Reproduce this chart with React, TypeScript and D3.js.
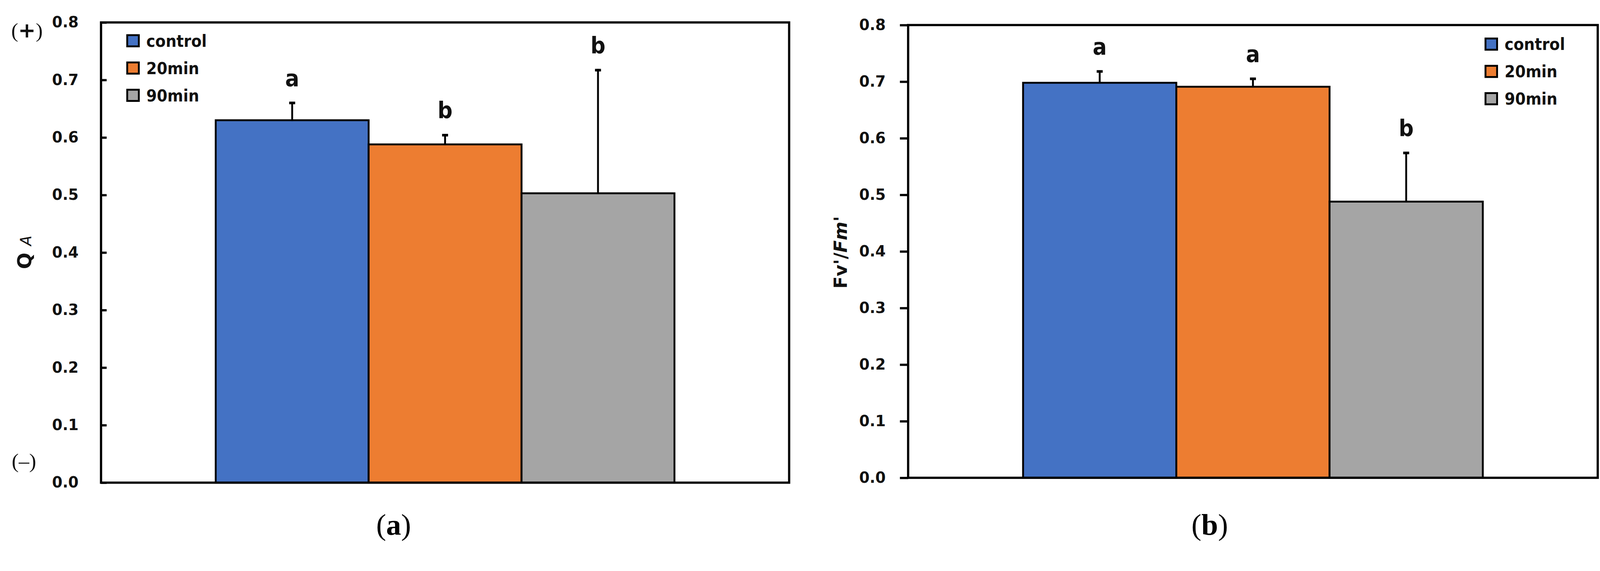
import React, { useEffect, useRef } from 'react';
import * as d3 from 'd3';

// treatments and colours
const groups = ["control", "20min", "90min"];
const barColors = ["#4472C4", "#ED7D31", "#A5A5A5"];

// panel (a): QA
const qaMeans = [0.630, 0.588, 0.503];
const qaErrors = [0.032, 0.018, 0.216];
const qaLetters = ["a", "b", "b"];

// panel (b): Fv'/Fm'
const fvMeans = [0.698, 0.691, 0.488];
const fvErrors = [0.022, 0.016, 0.088];
const fvLetters = ["a", "a", "b"];

const yTicks = [0, 0.1, 0.2, 0.3, 0.4, 0.5, 0.6, 0.7, 0.8];

const W = 4276;
const H = 1463;

const TICK_FONT = "'DejaVu Sans', sans-serif";
const COND_FONT = "'DejaVu Sans Condensed', 'DejaVu Sans', sans-serif";
const SERIF = "'Liberation Serif', 'DejaVu Serif', serif";

interface PanelLayout {
  left: number;
  right: number;
  top: number;
  bottom: number;
  tickSize: number;
  tickPadding: number;
  legendX: number;
  legendY: number;
  caption: string;
  captionX: number;
}

const layoutA: PanelLayout = {
  left: 270, right: 2109, top: 60, bottom: 1291,
  tickSize: -15, tickPadding: 60,
  legendX: 340, legendY: 109,
  caption: "a", captionX: 1052,
};

const layoutB: PanelLayout = {
  left: 2427, right: 4270, top: 67, bottom: 1278,
  tickSize: 22, tickPadding: 38,
  legendX: 3970, legendY: 118,
  caption: "b", captionX: 3233,
};

function drawPanel(
  svg: d3.Selection<SVGSVGElement, unknown, null, undefined>,
  L: PanelLayout,
  means: number[],
  errors: number[],
  letters: string[]
) {
  const g = svg.append("g");

  const y = d3.scaleLinear().domain([0, 0.8]).range([L.bottom, L.top]);
  const outer = d3.scaleBand<string>()
    .domain(["all"])
    .range([L.left, L.right])
    .paddingOuter(0.25);
  const start = outer("all") as number;
  const x = d3.scaleBand<string>()
    .domain(groups)
    .range([start, start + outer.bandwidth()]);

  // bars
  g.selectAll("rect.bar")
    .data(groups)
    .join("rect")
    .attr("class", "bar")
    .attr("x", d => x(d) as number)
    .attr("y", (d, i) => y(means[i]))
    .attr("width", x.bandwidth())
    .attr("height", (d, i) => L.bottom - y(means[i]))
    .attr("fill", (d, i) => barColors[i])
    .attr("stroke", "#000")
    .attr("stroke-width", 5);

  // error bars (upper only) + letters
  groups.forEach((d, i) => {
    const cx = (x(d) as number) + x.bandwidth() / 2;
    const yTop = y(means[i] + errors[i]);
    g.append("line")
      .attr("x1", cx).attr("x2", cx)
      .attr("y1", y(means[i])).attr("y2", yTop)
      .attr("stroke", "#000").attr("stroke-width", 5);
    g.append("line")
      .attr("x1", cx - 8).attr("x2", cx + 8)
      .attr("y1", yTop + 3).attr("y2", yTop + 3)
      .attr("stroke", "#000").attr("stroke-width", 7);
    g.append("text")
      .attr("x", cx)
      .attr("y", yTop - 42)
      .attr("text-anchor", "middle")
      .attr("font-family", COND_FONT)
      .attr("font-weight", "bold")
      .attr("font-size", 62)
      .attr("fill", "#111")
      .text(letters[i]);
  });

  // frame
  g.append("rect")
    .attr("x", L.left).attr("y", L.top)
    .attr("width", L.right - L.left).attr("height", L.bottom - L.top)
    .attr("fill", "none")
    .attr("stroke", "#000")
    .attr("stroke-width", 6);

  // y axis
  const axis = d3.axisLeft(y)
    .tickValues(yTicks)
    .tickSize(L.tickSize)
    .tickPadding(L.tickPadding)
    .tickFormat(d3.format(".1f"));
  const ag = g.append("g")
    .attr("transform", `translate(${L.left},0)`)
    .call(axis);
  ag.select(".domain").remove();
  ag.selectAll(".tick line").attr("stroke", "#000").attr("stroke-width", 6);
  ag.selectAll(".tick text")
    .attr("font-family", TICK_FONT)
    .attr("font-weight", "bold")
    .attr("font-size", 40)
    .attr("fill", "#111");

  // legend
  groups.forEach((d, i) => {
    const cy = L.legendY + i * 73;
    g.append("rect")
      .attr("x", L.legendX).attr("y", cy - 15)
      .attr("width", 31).attr("height", 30)
      .attr("fill", barColors[i])
      .attr("stroke", "#000").attr("stroke-width", 5);
    g.append("text")
      .attr("x", L.legendX + 51)
      .attr("y", cy + 16)
      .attr("font-family", COND_FONT)
      .attr("font-weight", "bold")
      .attr("font-size", 45)
      .attr("fill", "#111")
      .text(d);
  });

  // caption (a) / (b)
  const cap = g.append("text")
    .attr("x", L.captionX)
    .attr("y", 1430)
    .attr("text-anchor", "middle")
    .attr("font-family", SERIF)
    .attr("font-size", 80)
    .attr("fill", "#000");
  cap.append("tspan").text("(");
  cap.append("tspan").attr("font-weight", "bold").text(L.caption);
  cap.append("tspan").text(")");
}

const App: React.FC = () => {
  const svgRef = useRef<SVGSVGElement>(null);

  useEffect(() => {
    document.body.style.margin = "0";
    document.body.style.overflow = "hidden";
    if (!svgRef.current) return;
    const svg = d3.select(svgRef.current);
    svg.selectAll("*").remove();

    svg.append("rect").attr("width", W).attr("height", H).attr("fill", "#fff");

    drawPanel(svg, layoutA, qaMeans, qaErrors, qaLetters);
    drawPanel(svg, layoutB, fvMeans, fvErrors, fvLetters);

    // panel (a) y label: Q A
    const qa = svg.append("text")
      .attr("transform", "translate(84,675) rotate(-90)")
      .attr("text-anchor", "middle")
      .attr("font-family", TICK_FONT)
      .attr("font-weight", "bold")
      .attr("fill", "#111");
    qa.append("tspan").attr("font-size", 52).text("Q ");
    qa.append("tspan").attr("font-size", 40).attr("font-style", "italic").attr("font-weight", "normal").text("A");

    // (+) / (–) markers
    svg.append("text")
      .attr("x", 72).attr("y", 100)
      .attr("text-anchor", "middle")
      .attr("font-family", SERIF)
      .attr("font-size", 56)
      .attr("fill", "#111")
      .html('(<tspan font-weight="bold" font-family="DejaVu Sans">+</tspan>)');
    svg.append("text")
      .attr("x", 64).attr("y", 1252)
      .attr("text-anchor", "middle")
      .attr("font-family", SERIF)
      .attr("font-size", 56)
      .attr("fill", "#111")
      .text("(–)");

    // panel (b) y label: Fv'/Fm'
    const fv = svg.append("text")
      .attr("transform", "translate(2263,675) rotate(-90)")
      .attr("text-anchor", "middle")
      .attr("font-family", TICK_FONT)
      .attr("font-weight", "bold")
      .attr("font-size", 48)
      .attr("fill", "#111");
    fv.append("tspan").text("Fv'/");
    fv.append("tspan").attr("font-style", "italic").text("Fm'");
  }, []);

  return (
    <svg
      ref={svgRef}
      viewBox={`0 0 ${W} ${H}`}
      width="100%"
      preserveAspectRatio="xMinYMin meet"
      style={{ display: "block", width: "100vw", maxHeight: "100vh" }}
    />
  );
};

export default App;
